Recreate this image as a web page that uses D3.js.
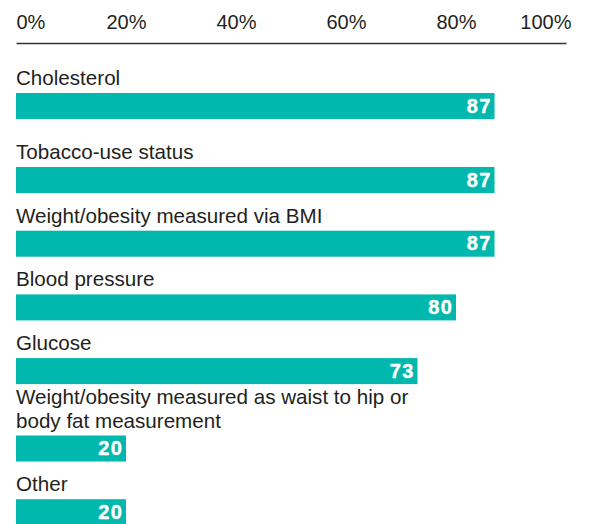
<!DOCTYPE html>
<html>
<head>
<meta charset="utf-8">
<script src="https://cdn.jsdelivr.net/npm/d3@7/dist/d3.min.js"></script>
<style>
  html, body { margin: 0; padding: 0; background: #fff; }
  svg { display: block; }
  text { font-family: "Liberation Sans", Arial, sans-serif; }
</style>
</head>
<body>
<svg id="chart" width="589" height="524"></svg>
<script>
// ---- Data ----
const categories = [
  "Cholesterol",
  "Tobacco-use status",
  "Weight/obesity measured via BMI",
  "Blood pressure",
  "Glucose",
  "Weight/obesity measured as waist to hip or body fat measurement",
  "Other"
];
const values = [87, 87, 87, 80, 73, 20, 20];
const tickValues = [0, 20, 40, 60, 80, 100];
const tickLabels = ["0%", "20%", "40%", "60%", "80%", "100%"];

// ---- Layout ----
const W = 589, H = 524;
const left = 16, right = 566;
const axisY = 43;
const barH = 26;
const lineH = 23.3;
const wrapWidth = 425;
const labelSize = "20.6px";
const barColor = "#00b8ad";
const textColor = "#231f20";

const svg = d3.select("#chart");

const x = d3.scaleLinear().domain([0, 100]).range([left, right]);

// Axis on top
const axis = d3.axisTop(x)
  .tickValues(tickValues)
  .tickFormat((d, i) => tickLabels[i])
  .tickSize(0)
  .tickSizeOuter(0)
  .tickPadding(14);

const gAxis = svg.append("g")
  .attr("transform", `translate(0,${axisY})`)
  .call(axis);
gAxis.select(".domain")
  .attr("stroke", "#333")
  .attr("stroke-width", 1.6);
gAxis.selectAll(".tick text")
  .attr("fill", textColor)
  .style("font-size", "20px")
  .style("font-family", "'Liberation Sans', Arial, sans-serif")
  .attr("text-anchor", (d, i) => i === 0 ? "start" : (i === tickValues.length - 1 ? "end" : "middle"))
  .attr("dx", (d, i) => i === tickValues.length - 1 ? 5 : 0);

// Measure / wrap labels
const measurer = svg.append("text")
  .style("font-size", labelSize)
  .attr("visibility", "hidden");
function wrap(str) {
  const words = str.split(" ");
  const lines = [];
  let cur = "";
  words.forEach(w => {
    const test = cur ? cur + " " + w : w;
    measurer.text(test);
    if (measurer.node().getComputedTextLength() > wrapWidth && cur) {
      lines.push(cur);
      cur = w;
    } else {
      cur = test;
    }
  });
  if (cur) lines.push(cur);
  return lines;
}
const labelLines = categories.map(wrap);
measurer.remove();

// Row positions (bar tops): base step plus extra space for multi-line labels
const rowStep = 63.7, firstRowExtra = 10.3, extraLine = 13.7, top0 = 93;
let extraCum = 0;
const barTops = labelLines.map((lines, i) => {
  extraCum += (lines.length - 1);
  return top0 + i * rowStep + (i > 0 ? firstRowExtra : 0) + extraCum * extraLine;
});
const y = d3.scaleOrdinal().domain(categories).range(barTops);

const rows = svg.append("g").selectAll("g.row")
  .data(categories)
  .join("g")
  .attr("class", "row");

rows.append("rect")
  .attr("x", x(0))
  .attr("y", d => y(d))
  .attr("width", (d, i) => x(values[i]) - x(0))
  .attr("height", barH)
  .attr("fill", barColor);

rows.each(function(d, i) {
  const g = d3.select(this);
  const lines = labelLines[i];
  const lastBase = y(d) - 8;
  const t = g.append("text")
    .attr("x", left)
    .attr("fill", textColor)
    .style("font-size", labelSize);
  lines.forEach((ln, k) => {
    t.append("tspan")
      .attr("x", left)
      .attr("y", lastBase - (lines.length - 1 - k) * lineH)
      .text(ln);
  });
});

rows.append("text")
  .attr("x", (d, i) => x(values[i]) - 3)
  .attr("y", d => y(d) + 19.5)
  .attr("text-anchor", "end")
  .attr("fill", "#fff")
  .style("font-size", "20px")
  .style("font-weight", "bold")
  .style("letter-spacing", "1.2px")
  .style("stroke", "#fff")
  .style("stroke-width", "0.4px")
  .text((d, i) => values[i]);
</script>
</body>
</html>
